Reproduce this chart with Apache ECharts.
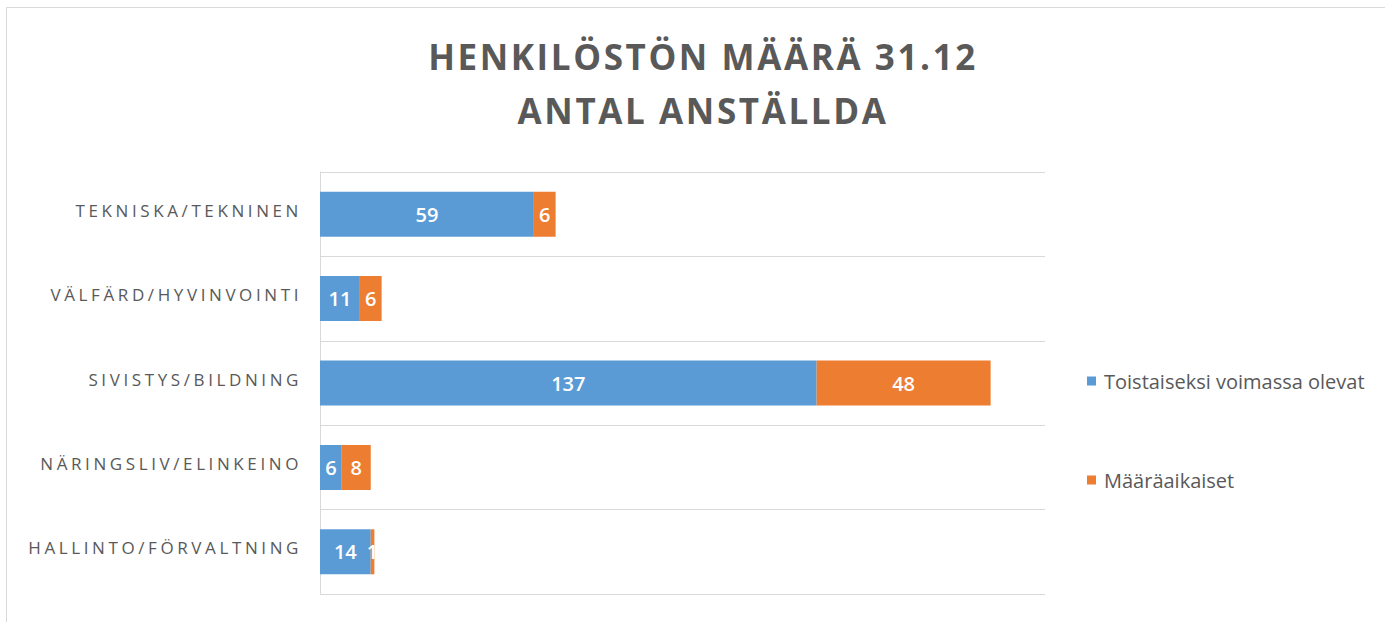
<!DOCTYPE html>
<html>
<head>
<meta charset="utf-8">
<script src="https://cdn.jsdelivr.net/npm/echarts@6/dist/echarts.min.js"></script>
<style>
  html, body { margin: 0; padding: 0; background: #ffffff; }
  #chart { width: 1385px; height: 622px; }
</style>
</head>
<body>
<div id="chart"></div>
<script>
  // Staff count per sector, top to bottom as in the report
  const categories = [
    'TEKNISKA/TEKNINEN',
    'VÄLFÄRD/HYVINVOINTI',
    'SIVISTYS/BILDNING',
    'NÄRINGSLIV/ELINKEINO',
    'HALLINTO/FÖRVALTNING',
  ];
  const permanent = [59, 11, 137, 6, 14];
  const fixedTerm = [6, 6, 48, 8, 1];
  const seriesNames = ['Toistaiseksi voimassa olevat', 'Määräaikaiset'];
  const titleLines = ['HENKILÖSTÖN MÄÄRÄ 31.12', 'ANTAL ANSTÄLLDA'];
  const xMax = 200;

  const textColor = '#595959';
  const gridColor = '#d9d9d9';
  const blue = '#5b9bd5';
  const orange = '#ed7d31';

  const chart = echarts.init(document.getElementById('chart'), null, { renderer: 'svg' });

  const barLabel = {
    show: true,
    position: 'inside',
    color: '#ffffff',
    fontFamily: 'Open Sans',
    fontSize: 20,
    fontWeight: 600,
  };

  const option = {
    animation: false,
    backgroundColor: '#ffffff',
    title: {
      text: titleLines.join('\n'),
      left: 698,
      textAlign: 'center',
      top: 24,
      textStyle: {
        color: textColor,
        fontFamily: 'Open Sans',
        fontWeight: 'bold',
        fontSize: 35,
        lineHeight: 54,
      },
    },
    legend: {
      orient: 'vertical',
      left: 1082,
      top: 366,
      itemWidth: 9,
      itemHeight: 9,
      itemGap: 79,
      icon: 'rect',
      textStyle: {
        color: textColor,
        fontFamily: 'Open Sans',
        fontSize: 20,
        padding: [0, 0, 0, 3],
      },
      data: seriesNames,
    },
    graphic: [
      {
        type: 'rect',
        z: -1,
        silent: true,
        shape: { x: 6.5, y: 7.5, width: 1500, height: 800 },
        style: { fill: 'none', stroke: gridColor, lineWidth: 1 },
      },
    ],
    grid: {
      left: 320,
      right: 340,
      top: 172,
      bottom: 28,
    },
    xAxis: {
      type: 'value',
      min: 0,
      max: xMax,
      show: false,
    },
    yAxis: {
      type: 'category',
      inverse: true,
      data: categories,
      axisLine: { show: true, lineStyle: { color: gridColor } },
      axisTick: { show: false },
      splitLine: { show: true, lineStyle: { color: gridColor } },
      axisLabel: {
        color: textColor,
        fontFamily: 'Open Sans',
        fontSize: 17,
        margin: 18,
        // sits a few px above the bar centre in the original
        verticalAlign: 'bottom',
        lineHeight: 8,
      },
    },
    series: [
      {
        name: seriesNames[0],
        type: 'bar',
        stack: 'staff',
        barWidth: 45,
        data: permanent,
        itemStyle: { color: blue },
        label: barLabel,
      },
      {
        name: seriesNames[1],
        type: 'bar',
        stack: 'staff',
        barWidth: 45,
        data: fixedTerm,
        itemStyle: { color: orange },
        label: barLabel,
      },
    ],
  };

  // spaced capitals, like the original report
  const spaceLetters = () => {
    document.querySelectorAll('#chart svg text').forEach((el) => {
      const t = el.textContent;
      if (categories.includes(t)) el.style.letterSpacing = '3.6px';
      if (titleLines.includes(t)) el.style.letterSpacing = '2.6px';
    });
  };

  chart.on('finished', spaceLetters);
  chart.setOption(option);
  spaceLetters();
</script>
</body>
</html>
